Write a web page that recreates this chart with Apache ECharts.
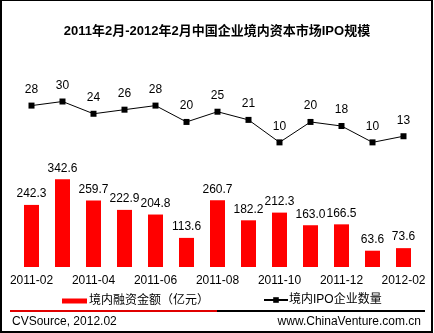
<!DOCTYPE html>
<html>
<head>
<meta charset="utf-8">
<script src="https://cdn.jsdelivr.net/npm/echarts@6/dist/echarts.min.js"></script>
<style>
  html, body { margin: 0; padding: 0; background: #fff; }
  #chart { width: 434px; height: 333px; }
</style>
</head>
<body>
<div id="chart"></div>
<script>
// Months covered by the chart
var months = ['2011-02','2011-03','2011-04','2011-05','2011-06','2011-07','2011-08',
              '2011-09','2011-10','2011-11','2011-12','2012-01','2012-02'];
// Domestic IPO financing amount (100 million yuan)
var financing = [242.3, 342.6, 259.7, 222.9, 204.8, 113.6, 260.7, 182.2, 212.3, 163.0, 166.5, 63.6, 73.6];
// Number of domestic IPO companies
var ipoCount = [28, 30, 24, 26, 28, 20, 25, 21, 10, 20, 18, 10, 13];

var FONT = '"Liberation Sans", Arial, "Noto Sans CJK SC", sans-serif';
var chart = echarts.init(document.getElementById('chart'), null, { renderer: 'canvas' });

chart.setOption({
  backgroundColor: '#fff',
  animation: false,
  textStyle: { fontFamily: FONT },
  title: {
    text: '2011年2月-2012年2月中国企业境内资本市场IPO规模',
    left: 'center',
    top: 20,
    textStyle: { fontSize: 13, fontWeight: 'bold', color: '#000', fontFamily: FONT }
  },
  legend: [
    {
      data: ['境内融资金额（亿元）'],
      left: 57, top: 290,
      itemWidth: 25, itemHeight: 5, itemGap: 2,
      icon: 'rect',
      textStyle: { fontSize: 12, color: '#000', fontFamily: FONT, padding: [0, 0, 0, -3] }
    },
    {
      data: ['境内IPO企业数量'],
      left: 258, top: 289,
      itemWidth: 24, itemHeight: 7,
      textStyle: { fontSize: 12, color: '#000', fontFamily: FONT, padding: [0, 0, 0, -4] }
    }
  ],
  grid: { left: 16, right: 15, top: 30, bottom: 66 },
  xAxis: {
    type: 'category',
    data: months,
    axisLine: { show: false },
    axisTick: { show: false },
    axisLabel: { interval: 1, fontSize: 12, color: '#000', margin: 8, fontFamily: FONT }
  },
  yAxis: [
    { type: 'value', min: 0, max: 925, show: false, splitLine: { show: false } },
    { type: 'value', min: -51, max: 65, show: false, splitLine: { show: false } }
  ],
  series: [
    {
      name: '境内融资金额（亿元）',
      type: 'bar',
      data: financing,
      yAxisIndex: 0,
      barWidth: 15,
      itemStyle: { color: '#ff0000' },
      label: {
        show: true, position: 'top', distance: 5,
        fontSize: 12, color: '#000', fontFamily: FONT,
        formatter: function (p) { return p.value.toFixed(1); }
      }
    },
    {
      name: '境内IPO企业数量',
      type: 'line',
      data: ipoCount,
      yAxisIndex: 1,
      symbol: 'rect',
      symbolSize: 6,
      lineStyle: { color: '#000', width: 1 },
      itemStyle: { color: '#000' },
      label: {
        show: true, position: 'top', distance: 7,
        fontSize: 12, color: '#000', fontFamily: FONT
      }
    }
  ],
  graphic: [
    // frame
    { type: 'rect', shape: { x: 0, y: 0, width: 2, height: 333 }, style: { fill: '#000' } },
    { type: 'rect', shape: { x: 0, y: 0, width: 433, height: 1 }, style: { fill: '#000' } },
    { type: 'rect', shape: { x: 431, y: 0, width: 2, height: 333 }, style: { fill: '#000' } },
    { type: 'rect', shape: { x: 0, y: 331, width: 433, height: 2 }, style: { fill: '#000' } },
    // footer separator
    { type: 'rect', shape: { x: 10, y: 310, width: 207, height: 2 }, style: { fill: '#e00000' } },
    { type: 'rect', shape: { x: 217, y: 310, width: 208, height: 2 }, style: { fill: '#000' } },
    // footer texts
    { type: 'text', left: 12, top: 316,
      style: { text: 'CVSource, 2012.02', fontSize: 12, fill: '#000', fontFamily: FONT } },
    { type: 'text', right: 13, top: 316,
      style: { text: 'www.ChinaVenture.com.cn', fontSize: 12, fill: '#000', fontFamily: FONT } }
  ]
});
</script>
</body>
</html>
